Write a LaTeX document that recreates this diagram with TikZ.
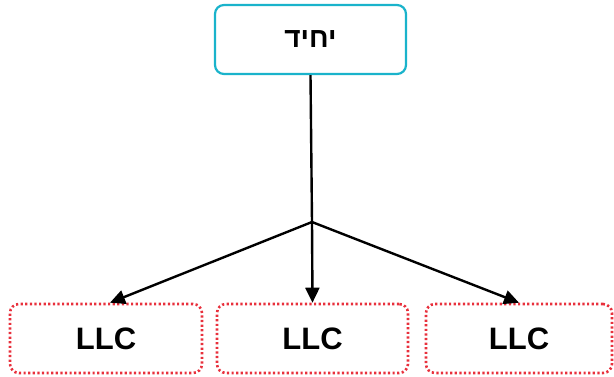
\documentclass[tikz,border=0pt]{standalone}
\usepackage{fontspec}
\setmainfont{Liberation Sans}
\newfontfamily\hebfont[Script=Hebrew]{Liberation Sans}
\TeXXeTstate=1
\usetikzlibrary{arrows.meta}
\definecolor{teal1}{HTML}{1AB3CB}
\definecolor{red1}{HTML}{E8303C}
\tikzset{
  topbox/.style={draw=teal1, line width=2.2pt, rounded corners=9pt, minimum width=191pt, minimum height=69pt, inner sep=0pt, font=\hebfont\bfseries\fontsize{28}{32}\selectfont},
  llcbox/.style={draw=red1, line width=2.6pt, dash pattern=on 2.2pt off 2.4pt, rounded corners=9pt, minimum height=69pt, inner sep=0pt, font=\bfseries\fontsize{31}{36}\selectfont},
  conn/.style={line width=2.4pt, black},
  arr/.style={conn, -{Triangle[length=15pt,width=14pt]}}
}
\begin{document}
\begin{tikzpicture}[x=1pt,y=-1pt]
\useasboundingbox (0,0) rectangle (614,376);
\node[topbox] (top) at (310.5,39.5) {\beginR יחיד\endR};
\node[llcbox, minimum width=192pt] (l) at (106,338.5) {LLC};
\node[llcbox, minimum width=191pt] (m) at (312.5,338.5) {LLC};
\node[llcbox, minimum width=186pt] (r) at (519,338.5) {LLC};
\coordinate (j) at (312,222);
\draw[conn] (top.south) -- (j);
\draw[arr] (j) -- ([xshift=4pt]l.north);
\draw[arr] (j) -- (m.north);
\draw[arr] (j) -- (r.north);
\end{tikzpicture}
\end{document}
